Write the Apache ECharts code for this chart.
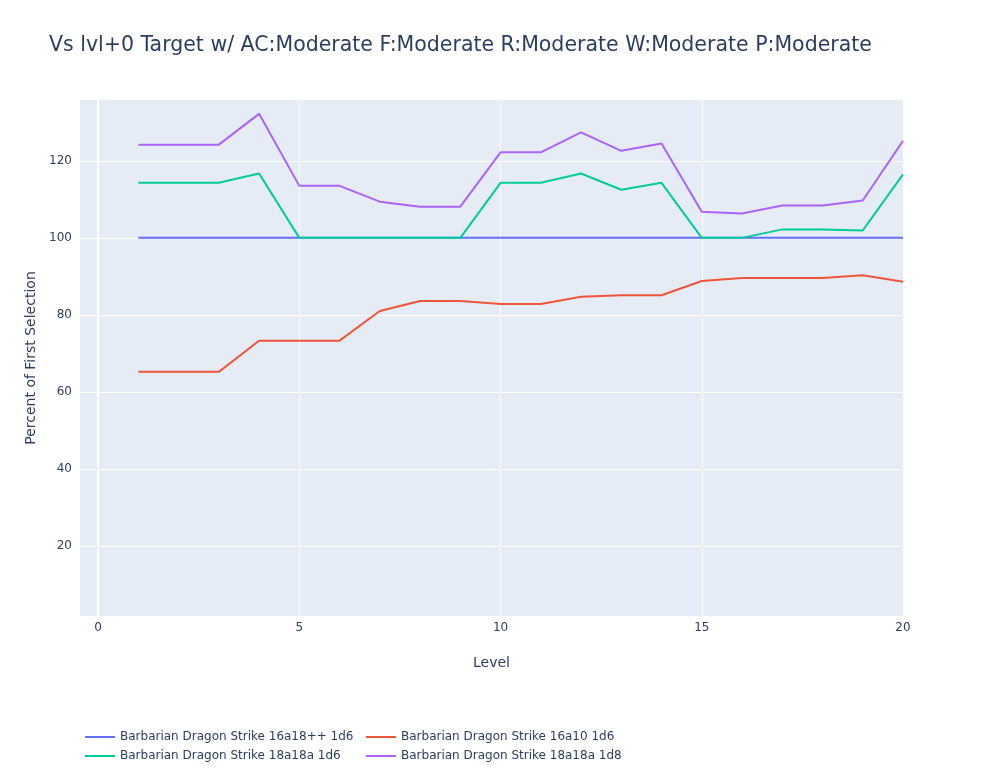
<!DOCTYPE html>
<html>
<head>
<meta charset="utf-8">
<script src="https://cdn.jsdelivr.net/npm/echarts@6/dist/echarts.min.js"></script>
<style>
  html, body { margin: 0; padding: 0; background: #fff; }
  #chart { width: 983px; height: 780px; }
</style>
</head>
<body>
<div id="chart"></div>
<script>
// levels 1..20
var levels = [1, 2, 3, 4, 5, 6, 7, 8, 9, 10, 11, 12, 13, 14, 15, 16, 17, 18, 19, 20];
var seriesNames = [
    'Barbarian Dragon Strike 16a18++ 1d6',
    'Barbarian Dragon Strike 16a10 1d6',
    'Barbarian Dragon Strike 18a18a 1d6',
    'Barbarian Dragon Strike 18a18a 1d8'
];
var base16a18 = [100, 100, 100, 100, 100, 100, 100, 100, 100, 100, 100, 100, 100, 100, 100, 100, 100, 100, 100, 100];
var str16a10 = [65.2, 65.2, 65.2, 73.3, 73.3, 73.3, 81.0, 83.6, 83.6, 82.8, 82.8, 84.7, 85.1, 85.1, 88.8, 89.6, 89.6, 89.6, 90.3, 88.6];
var str18a18d6 = [114.3, 114.3, 114.3, 116.7, 100, 100, 100, 100, 100, 114.3, 114.3, 116.7, 112.5, 114.3, 100, 100, 102.2, 102.2, 101.9, 116.5];
var str18a18d8 = [124.2, 124.2, 124.2, 132.2, 113.5, 113.5, 109.4, 108.1, 108.1, 122.2, 122.2, 127.4, 122.6, 124.5, 106.8, 106.3, 108.4, 108.4, 109.7, 125.2];
var xTicks = [0, 5, 10, 15, 20];
var yTicks = [20, 40, 60, 80, 100, 120];
var colors = ['#636efa', '#EF553B', '#00cc96', '#ab63fa'];

var txt = '#2a3f5f';
var font = '"DejaVu Sans", Verdana, sans-serif';

function pairs(vals) {
    var out = [];
    for (var i = 0; i < levels.length; i++) out.push([levels[i], vals[i]]);
    return out;
}

var allData = [base16a18, str16a10, str18a18d6, str18a18d8];
var series = [];
for (var i = 0; i < allData.length; i++) {
    series.push({
        name: seriesNames[i],
        type: 'line',
        data: pairs(allData[i]),
        showSymbol: false,
        symbol: 'none',
        lineStyle: { width: 2, color: colors[i] },
        itemStyle: { color: colors[i] },
        emphasis: { disabled: true }
    });
}
// zero line of the x axis, a bit thicker than the grid
series[0].markLine = {
    silent: true,
    symbol: 'none',
    label: { show: false },
    lineStyle: { color: '#fff', width: 2, type: 'solid' },
    data: [{ xAxis: 0 }]
};

var legendBase = {
    orient: 'vertical',
    icon: 'rect',
    itemWidth: 30,
    itemHeight: 2,
    itemGap: 7,
    textStyle: { color: txt, fontSize: 12, fontFamily: font },
    top: 726
};

var myChart = echarts.init(document.getElementById('chart'));
var option = {
    backgroundColor: '#fff',
    animation: false,
    color: colors,
    title: {
        text: 'Vs lvl+0 Target w/ AC:Moderate F:Moderate R:Moderate W:Moderate P:Moderate',
        left: 44,
        top: 30,
        textStyle: { color: txt, fontSize: 20.5, fontWeight: 'normal', fontFamily: font }
    },
    legend: [
        Object.assign({}, legendBase, { left: 80, data: [seriesNames[0], seriesNames[2]] }),
        Object.assign({}, legendBase, { left: 361, data: [seriesNames[1], seriesNames[3]] })
    ],
    grid: {
        left: 80,
        right: 80,
        top: 100,
        bottom: 164,
        show: true,
        backgroundColor: '#E5ECF6',
        borderWidth: 0
    },
    xAxis: {
        type: 'value',
        min: -0.45,
        max: 20,
        name: 'Level',
        nameLocation: 'middle',
        nameGap: 40,
        nameTextStyle: { color: txt, fontSize: 14, fontFamily: font },
        axisLine: { show: false },
        axisTick: { show: false, customValues: xTicks },
        axisLabel: { customValues: xTicks, color: txt, fontSize: 12, fontFamily: font, margin: 6 },
        splitLine: { show: true, lineStyle: { color: '#fff', width: 1 } }
    },
    yAxis: {
        type: 'value',
        min: 1.8,
        max: 135.8,
        name: 'Percent of First Selection',
        nameLocation: 'middle',
        nameGap: 35,
        nameTextStyle: { color: txt, fontSize: 14, fontFamily: font },
        axisLine: { show: false },
        axisTick: { show: false, customValues: yTicks },
        axisLabel: { customValues: yTicks, color: txt, fontSize: 12, fontFamily: font, margin: 8 },
        splitLine: { show: true, lineStyle: { color: '#fff', width: 1 } }
    },
    series: series
};
myChart.setOption(option);
</script>
</body>
</html>
